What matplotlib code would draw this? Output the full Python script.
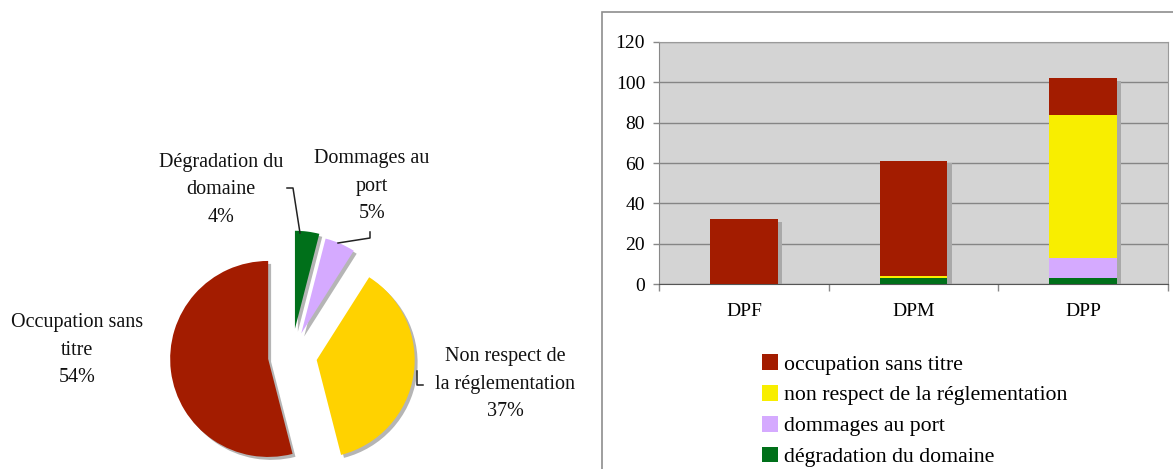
import numpy as np
import matplotlib
matplotlib.use("Agg")
import matplotlib.pyplot as plt
from matplotlib.patches import Rectangle, Patch

plt.rcParams["font.family"] = ["Liberation Serif", "DejaVu Serif"]

# pie: share of each infraction type
pie_labels = ["Dégradation du\ndomaine", "Dommages au\nport",
              "Non respect de\nla réglementation", "Occupation sans\ntitre"]
pie_values = [4, 5, 37, 54]

# stacked bars: infractions per domain
categories = ["DPF", "DPM", "DPP"]
degradation = [0, 3, 3]
dommages = [0, 0, 10]
non_respect = [0, 1, 71]
occupation = [32, 57, 18]

RED = "#a31c00"
GOLD = "#ffd200"
YELLOW = "#f8ee00"
LILAC = "#d5aaff"
GREEN = "#00701a"

W, H = 1173, 469
fig = plt.figure(figsize=(W / 100, H / 100), dpi=100)

# ---- pie (left) ----
R = 98.0             # pie radius in px
cx, cy = 291.5, 356  # pie centre in px (from top-left)
axp = fig.add_axes([0, 0, 600 / W, 1])
explode = [0.28, 0.25, 0.26, 0.24]
axp.pie(pie_values, explode=explode, startangle=90, counterclock=False,
        colors=["#b5b5b5"] * 4, center=(0.03, -0.03),
        wedgeprops=dict(linewidth=0))
axp.pie(pie_values, explode=explode, startangle=90, counterclock=False,
        colors=[GREEN, LILAC, GOLD, RED], wedgeprops=dict(linewidth=0))
axp.set_xlim(-cx / R, (600 - cx) / R)
axp.set_ylim(-(H - cy) / R, cy / R)
axp.set_aspect("auto")
axp.axis("off")


def px(x, y):
    return (x - cx) / R, (cy - y) / R


label_pos = [(221, 190), (372, 186), (505, 384), (77, 350)]
for lab, v, (x, y) in zip(pie_labels, pie_values, label_pos):
    axp.text(*px(x, y), f"{lab}\n{v}%", ha="center", va="center",
             fontsize=14.5, linespacing=1.62, color="#111111")

# leader lines
for pts in ([(300, 233), (293, 188), (287, 188)],
            [(338, 243), (370, 238), (370, 232)],
            [(417, 371), (417, 385), (423, 385)]):
    xs, ys = zip(*[px(a, b) for a, b in pts])
    axp.plot(xs, ys, color="#222222", lw=1.1)

# ---- stacked bars (right) ----
# outer frame of the chart area
fig.patches.append(Rectangle((601.5 / W, -0.05), 0.6, 1 - 11.7 / H + 0.05,
                             transform=fig.transFigure, fill=False,
                             edgecolor="#8e8e8e", lw=1.2))

ax = fig.add_axes([659 / W, 1 - 284 / H, 509 / W, 242 / H])
ax.set_facecolor("#d4d4d4")
x = np.arange(len(categories))
bw = 0.4
totals = np.sum([degradation, dommages, non_respect, occupation], axis=0)
ax.bar(x + 0.025, totals - 1.2, bw, color="#a9a9a9", zorder=2)

bottom = np.zeros(len(categories))
for vals, col, lab in [(degradation, GREEN, "dégradation du domaine"),
                       (dommages, LILAC, "dommages au port"),
                       (non_respect, YELLOW, "non respect de la réglementation"),
                       (occupation, RED, "occupation sans titre")]:
    ax.bar(x, vals, bw, bottom=bottom, color=col, zorder=3, label=lab)
    bottom += np.array(vals)

ax.set_xlim(-0.5, 2.5)
ax.set_ylim(0, 120)
ax.set_yticks(np.arange(0, 121, 20))
ax.yaxis.grid(True, color="#858585", lw=1)
ax.set_axisbelow(True)
ax.set_xticks(x)
ax.set_xticklabels(categories)
ax.set_xticks([-0.5, 0.5, 1.5, 2.5], minor=True)
ax.tick_params(axis="x", which="major", length=0, pad=14, labelsize=14)
ax.tick_params(axis="x", which="minor", length=5, width=1, color="#888888",
               direction="out")
ax.tick_params(axis="y", length=4, width=1, color="#888888", pad=6,
               labelsize=14)
for s in ["top", "right"]:
    ax.spines[s].set_color("#9a9a9a")
ax.spines["left"].set_color("#888888")
ax.spines["bottom"].set_color("#555555")

handles = [Patch(facecolor=c) for c in [RED, YELLOW, LILAC, GREEN]]
labels = ["occupation sans titre", "non respect de la réglementation",
          "dommages au port", "dégradation du domaine"]
fig.legend(handles, labels, loc="upper left",
           bbox_to_anchor=(762 / W, 1 - 354 / H), frameon=False,
           fontsize=15.7, handlelength=0.75, handleheight=0.75,
           handletextpad=0.25, labelspacing=0.47, borderpad=0,
           borderaxespad=0)

fig.savefig("out.png", dpi=100)
